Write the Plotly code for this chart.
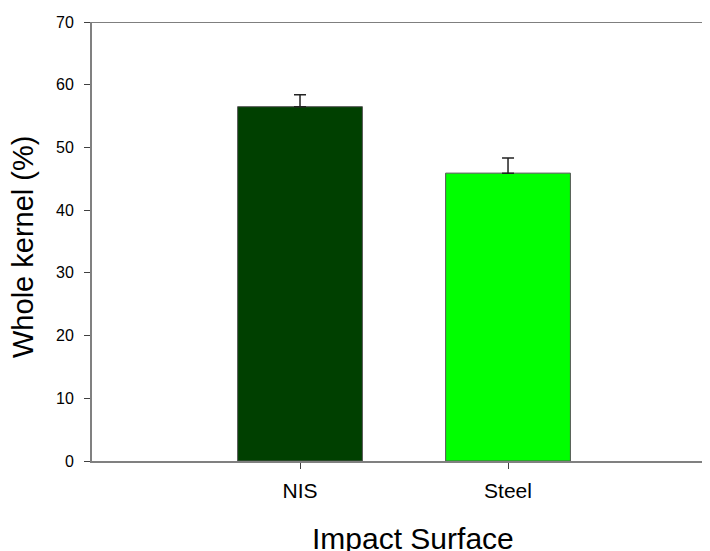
import plotly.graph_objects as go

categories = ["NIS", "Steel"]
whole_kernel = [56.5, 45.9]
err_upper = [1.9, 2.4]
bar_colors = ["#004000", "#00ff00"]
y_ticks = [0, 10, 20, 30, 40, 50, 60, 70]

x_pos = list(range(len(categories)))

# page body has an 8px margin, so the figure is offset by (8, 8) in the window
OFF = 8
W, H = 710 - OFF, 551 - OFF
L, T, B, R = 92 - OFF, 22 - OFF, 551 - 461, 0
PW, PH = W - L - R, H - T - B

fig = go.Figure()
fig.add_trace(go.Bar(
    x=x_pos, y=whole_kernel, width=0.6,
    marker=dict(color=bar_colors, line=dict(color="#555555", width=1)),
    error_y=dict(type="data", symmetric=False, array=err_upper,
                 arrayminus=[0] * len(err_upper),
                 color="#222222", thickness=1.5, width=6),
    showlegend=False,
))

fig.add_shape(type="line", xref="paper", yref="y", x0=0, x1=1, y0=70, y1=70,
              line=dict(color="#000000", width=1))

font_family = "Liberation Sans, Arial, sans-serif"


def px_x(x):
    return (x - 92) / PW


def px_y(y):
    return (461 - y) / PH


fig.update_layout(
    width=W, height=H,
    margin=dict(l=L, r=R, t=T, b=B),
    paper_bgcolor="white", plot_bgcolor="white",
    font=dict(family=font_family, color="#000000"),
    xaxis=dict(
        range=[-1, 1.971], tickvals=x_pos, ticktext=categories,
        showline=True, linecolor="#808080", linewidth=2,
        ticks="outside", ticklen=6, tickcolor="#404040", tickwidth=1,
        showgrid=False, zeroline=False,
        tickfont=dict(size=21, family=font_family), ticklabelstandoff=4,
    ),
    yaxis=dict(
        range=[0, 70], tickvals=y_ticks,
        showline=True, linecolor="#808080", linewidth=2,
        ticks="outside", ticklen=6, tickcolor="#404040", tickwidth=1,
        showgrid=False, zeroline=False,
        tickfont=dict(size=16, family=font_family), ticklabelstandoff=7,
    ),
    annotations=[
        dict(text="Impact Surface", xref="paper", yref="paper",
             x=px_x(413), y=px_y(538), showarrow=False,
             xanchor="center", yanchor="middle",
             font=dict(size=30, family=font_family)),
        dict(text="Whole kernel (%)", xref="paper", yref="paper",
             x=px_x(23), y=px_y(247), showarrow=False,
             textangle=-90, xanchor="center", yanchor="middle",
             font=dict(size=29, family=font_family)),
    ],
)

fig.write_html("out.html")
